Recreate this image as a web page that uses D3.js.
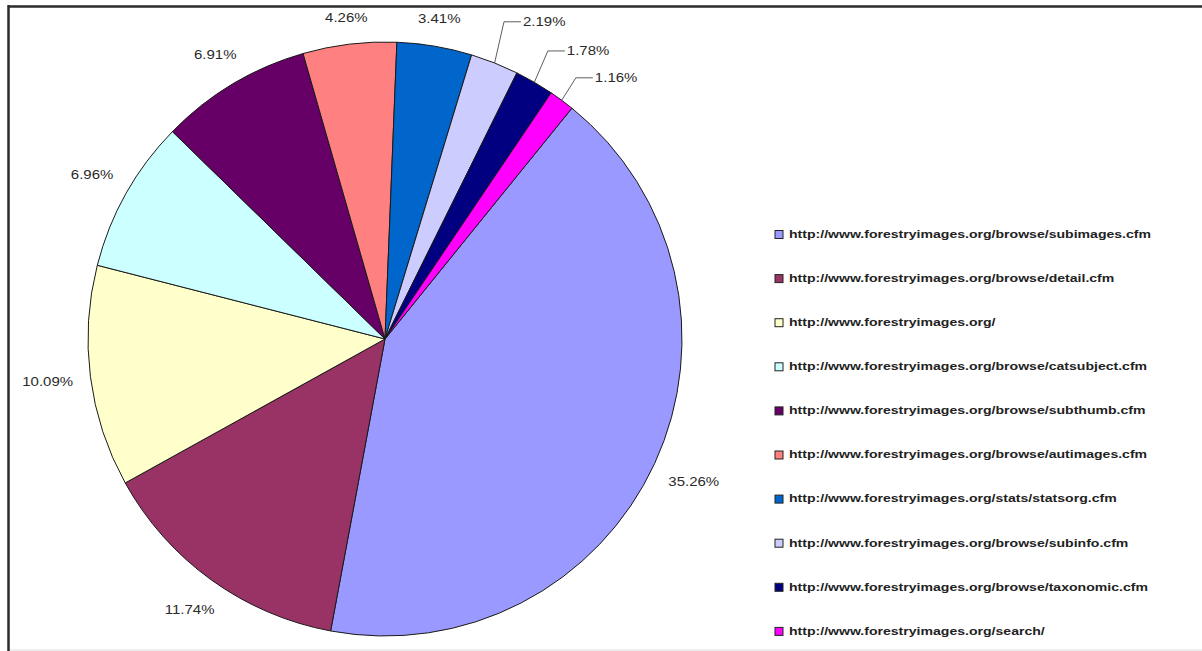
<!DOCTYPE html>
<html><head><meta charset="utf-8">
<script src="https://cdn.jsdelivr.net/npm/d3@7"></script>
<style>html,body{margin:0;padding:0;background:#fff;}svg{display:block;}</style>
</head><body>
<script>
const categories = [
  "http://www.forestryimages.org/browse/subimages.cfm",
  "http://www.forestryimages.org/browse/detail.cfm",
  "http://www.forestryimages.org/",
  "http://www.forestryimages.org/browse/catsubject.cfm",
  "http://www.forestryimages.org/browse/subthumb.cfm",
  "http://www.forestryimages.org/browse/autimages.cfm",
  "http://www.forestryimages.org/stats/statsorg.cfm",
  "http://www.forestryimages.org/browse/subinfo.cfm",
  "http://www.forestryimages.org/browse/taxonomic.cfm",
  "http://www.forestryimages.org/search/"
];
const values = [35.26, 11.74, 10.09, 6.96, 6.91, 4.26, 3.41, 2.19, 1.78, 1.16];
const labels = ["35.26%","11.74%","10.09%","6.96%","6.91%","4.26%","3.41%","2.19%","1.78%","1.16%"];
const colors = ["#9999FF","#993366","#FFFFCC","#CCFFFF","#660066","#FF8080","#0066CC","#CCCCFF","#000080","#FF00FF"];

const W = 1202, H = 651;
const cx = 385, cy = 339, R = 297;
const svg = d3.select("body").append("svg").attr("width", W).attr("height", H);

// frame
svg.append("line").attr("x1", 8).attr("x2", W).attr("y1", 6.5).attr("y2", 6.5).attr("stroke", "#2b2b2b").attr("stroke-width", 2.5);
svg.append("line").attr("x1", 8.5).attr("x2", 8.5).attr("y1", 5).attr("y2", H).attr("stroke", "#2b2b2b").attr("stroke-width", 2.5);
svg.append("line").attr("x1", 10).attr("x2", W).attr("y1", 650).attr("y2", 650).attr("stroke", "#dddddd").attr("stroke-width", 1);

const start = 39 * Math.PI / 180;
const pie = d3.pie().sort(null).value(d => d).startAngle(start).endAngle(start + 2 * Math.PI);
const arcs = pie(values);
const arc = d3.arc().innerRadius(0).outerRadius(R);

const g = svg.append("g").attr("transform", `translate(${cx},${cy})`);
g.selectAll("path.slice").data(arcs).enter().append("path")
  .attr("class", "slice")
  .attr("d", arc)
  .attr("fill", (d, i) => colors[i])
  .attr("stroke", "#1a1a1a").attr("stroke-width", 1);

// labels
const sxLab = 1.2;
function pt(a, r) { return [Math.sin(a) * r, -Math.cos(a) * r]; }
arcs.forEach((d, i) => {
  const mid = (d.startAngle + d.endAngle) / 2;
  const small = values[i] < 3;
  const t = g.append("text")
    .attr("x", 0).attr("y", 0)
    .attr("text-anchor", "middle").attr("dominant-baseline", "central")
    .attr("font-family", "Liberation Sans, Arial, sans-serif").attr("font-size", 12.5)
    .attr("fill", "#2a2a2a")
    .text(labels[i]);
  const w = t.node().getComputedTextLength() * sxLab;
  let lx, ly;
  if (!small) {
    const off = R + 17 + Math.abs(Math.sin(mid)) * w / 2 + Math.abs(Math.cos(mid)) * 7;
    [lx, ly] = pt(mid, off);
  } else {
    [lx, ly] = pt(mid + 5 * Math.PI / 180, R + 58 - (2.2 - values[i]) * 6);
  }
  t.attr("transform", `translate(${lx},${ly}) scale(${sxLab},1)`);
  if (small) {
    const left = lx - w / 2 - 2;
    const elbowX = left - 17;
    const [ax, ay] = pt(mid, R);
    g.append("polyline")
      .attr("points", `${ax},${ay} ${elbowX},${ly} ${left},${ly}`)
      .attr("fill", "none").attr("stroke", "#333").attr("stroke-width", 0.8);
  }
});

// legend
const sxLeg = 1.34;
const leg = svg.append("g");
categories.forEach((c, i) => {
  const y = 234.5 + i * 44.1;
  leg.append("rect").attr("x", 775).attr("y", y - 4).attr("width", 8).attr("height", 8)
    .attr("fill", colors[i]).attr("stroke", "#222").attr("stroke-width", 1);
  leg.append("text")
    .attr("transform", `translate(789,${y}) scale(${sxLeg},1)`)
    .attr("dominant-baseline", "central")
    .attr("font-family", "Liberation Sans, Arial, sans-serif").attr("font-weight", "bold").attr("font-size", 10.5)
    .attr("fill", "#222")
    .text(c);
});
</script>
</body></html>
